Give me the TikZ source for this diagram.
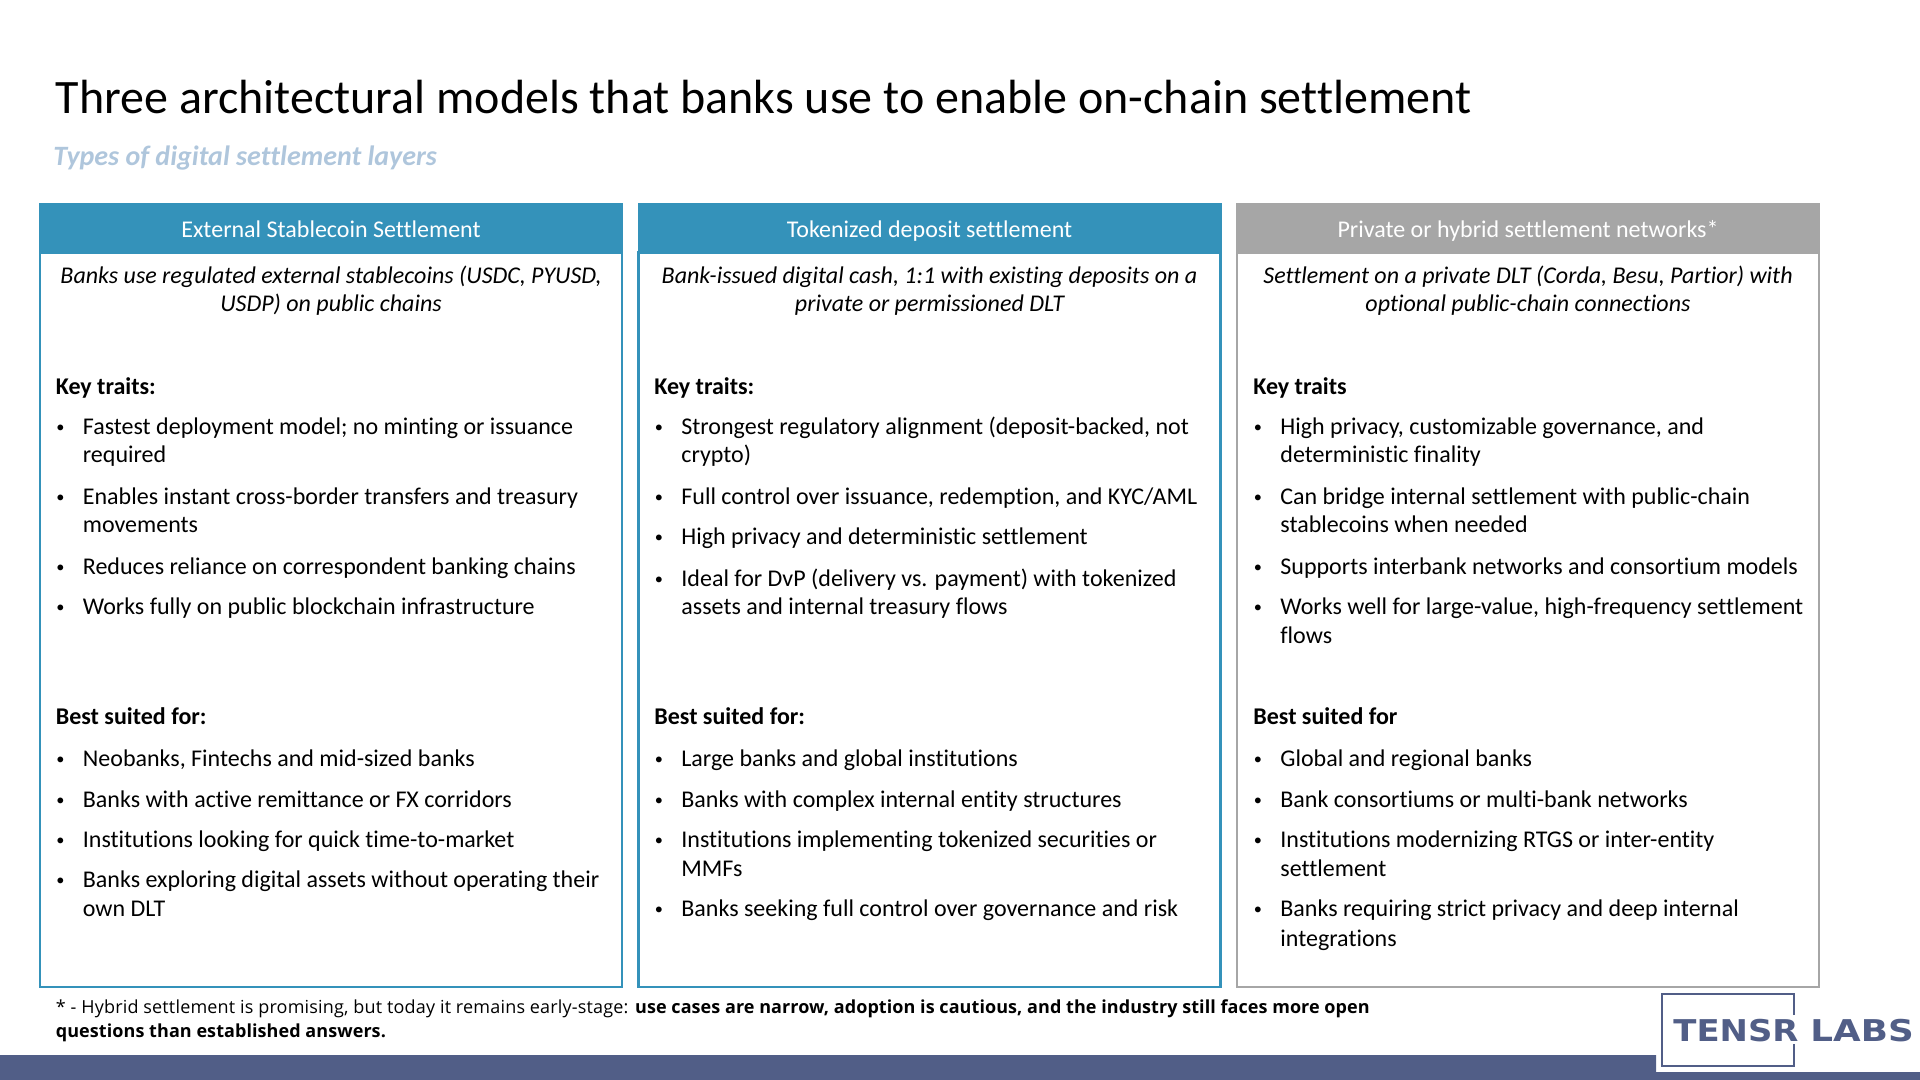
\documentclass[tikz,border=0pt]{standalone}
\usepackage{fontspec}
\setmainfont[Ligatures=CommonOff]{Carlito}
\newfontfamily\notefont[Ligatures=CommonOff, LetterSpace=1.0, BoldFeatures={LetterSpace=0.4}]{Open Sans}
\newfontfamily\logofont{DejaVu Sans}
\usepackage{xcolor}

\definecolor{headblue}{HTML}{3492BA}
\definecolor{headgrey}{HTML}{A6A6A6}
\definecolor{subblue}{HTML}{AFC6DC}
\definecolor{barblue}{HTML}{515E87}

\newcommand{\bu}{\llap{\raisebox{0.6pt}{\scalebox{0.68}{\textbullet}}\kern 9.2pt}}

\tikzset{
    headbox/.style={rectangle, fill=#1, text=white, minimum width=292pt, minimum height=25pt, inner sep=0pt, text height=11pt, text depth=1pt, font=\fontsize{12}{14}\selectfont},
    bodybox/.style={rectangle, draw=#1, line width=1.3pt, minimum width=291.1pt, minimum height=367.4pt, inner sep=0pt, anchor=north},
    desc/.style={anchor=base, inner sep=0pt, font=\fontsize{12}{14}\selectfont\itshape},
    rowtext/.style={anchor=base west, inner sep=0pt, font=\fontsize{12}{14}\selectfont},
    rowhead/.style={rowtext, font=\fontsize{12}{14}\selectfont\bfseries},
    note/.style={anchor=base west, inner sep=0pt, font=\fontsize{9}{11}\notefont}
}

\begin{document}
\begin{tikzpicture}[x=0.5pt, y=-0.5pt]
    \useasboundingbox (0,0) rectangle (1920,1080);

    % Title
    \node[anchor=base west, inner sep=0pt, font=\fontsize{24}{28}\selectfont] (title) at (55.5,114) {Three architectural models that banks use to enable on-chain settlement};
    \node[anchor=base west, inner sep=0pt, text=subblue, font=\fontsize{14}{16}\selectfont\bfseries\itshape] (subtitle) at (53,165.5) {Types of digital settlement layers};

    % Column boxes
    \foreach \cx/\name/\col/\txt in {331/one/headblue/External Stablecoin Settlement, 929.5/two/headblue/Tokenized deposit settlement, 1528/three/headgrey/Private or hybrid settlement networks*} {
        \node[bodybox=\col] (body\name) at (\cx,251) {};
        \node[headbox=\col] (head\name) at (\cx,228) {\txt};
    }

    % Descriptions
    \foreach \cx/\y/\txt [count=\n] in {
        331/283.5/{Banks use regulated external stablecoins (USDC, PYUSD,},
        331/312/{USDP) on public chains},
        929.5/283.5/{Bank-issued digital cash, 1:1 with existing deposits on a},
        929.5/312/{private or permissioned DLT},
        1528/283.5/{Settlement on a private DLT (Corda, Besu, Partior) with},
        1528/312/{optional public-chain connections}} {
        \node[desc] (desc\n) at (\cx,\y) {\txt};
    }

    % Subheadings
    \foreach \cx/\y/\txt [count=\n] in {
        55.5/394.5/Key traits:, 654/394.5/Key traits:, 1253/394.5/Key traits,
        55.5/724.5/Best suited for:, 654/724.5/Best suited for:, 1253/724.5/Best suited for} {
        \node[rowhead] (sub\n) at (\cx,\y) {\txt};
    }

    % First column
    \foreach \y/\txt [count=\n] in {
        434/{\bu Fastest deployment model; no minting or issuance},
        462.5/{required},
        504/{\bu Enables instant cross-border transfers and treasury},
        532/{movements},
        574/{\bu Reduces reliance on correspondent banking chains},
        614/{\bu Works fully on public blockchain infrastructure},
        766/{\bu Neobanks, Fintechs and mid-sized banks},
        807/{\bu Banks with active remittance or FX corridors},
        847/{\bu Institutions looking for quick time-to-market},
        887/{\bu Banks exploring digital assets without operating their},
        916/{own DLT}} {
        \node[rowtext] (a\n) at (82.5,\y) {\txt};
    }

    % Second column
    \foreach \y/\txt [count=\n] in {
        434/{\bu Strongest regulatory alignment (deposit-backed, not},
        462.5/{crypto)},
        504/{\bu Full control over issuance, redemption, and KYC/AML},
        544/{\bu High privacy and deterministic settlement},
        586/{\bu Ideal for DvP (delivery vs. payment) with tokenized},
        614/{assets and internal treasury flows},
        766/{\bu Large banks and global institutions},
        807/{\bu Banks with complex internal entity structures},
        847/{\bu Institutions implementing tokenized securities or},
        876/{MMFs},
        916/{\bu Banks seeking full control over governance and risk}} {
        \node[rowtext] (b\n) at (681,\y) {\txt};
    }

    % Third column
    \foreach \y/\txt [count=\n] in {
        434/{\bu High privacy, customizable governance, and},
        462.5/{deterministic finality},
        504/{\bu Can bridge internal settlement with public-chain},
        532/{stablecoins when needed},
        574/{\bu Supports interbank networks and consortium models},
        614/{\bu Works well for large-value, high-frequency settlement},
        643/{flows},
        766/{\bu Global and regional banks},
        807/{\bu Bank consortiums or multi-bank networks},
        847/{\bu Institutions modernizing RTGS or inter-entity},
        876/{settlement},
        916/{\bu Banks requiring strict privacy and deep internal},
        946.5/{integrations}} {
        \node[rowtext] (c\n) at (1280,\y) {\txt};
    }

    % Footnote
    \node[note] (note1) at (55.5,1013) {* - Hybrid settlement is promising, but today it remains early-stage: \textbf{use cases are narrow, adoption is cautious, and the industry still faces more open}};
    \node[note] (note2) at (55.5,1037) {\textbf{questions than established answers.}};

    % Bottom bar
    \fill[barblue] (0,1055) -- (1656,1055) -- (1656,1072) -- (1920,1072) -- (1920,1080) -- (0,1080) -- cycle;

    % Logo
    \draw[barblue, line width=1.1pt] (1794,1015) -- (1794,994) -- (1662,994) -- (1662,1066) -- (1794,1066) -- (1794,1044);
    \node[anchor=base west, inner sep=0pt, text=barblue, font=\fontsize{15}{17}\logofont\bfseries] (tensr) at (1673,1041) {\scalebox{1.13}[1]{TENSR}};
    \node[anchor=base west, inner sep=0pt, text=barblue, font=\fontsize{15}{17}\logofont\bfseries] (labs) at (1810,1041) {\scalebox{1.19}[1]{LABS}};
\end{tikzpicture}
\end{document}
